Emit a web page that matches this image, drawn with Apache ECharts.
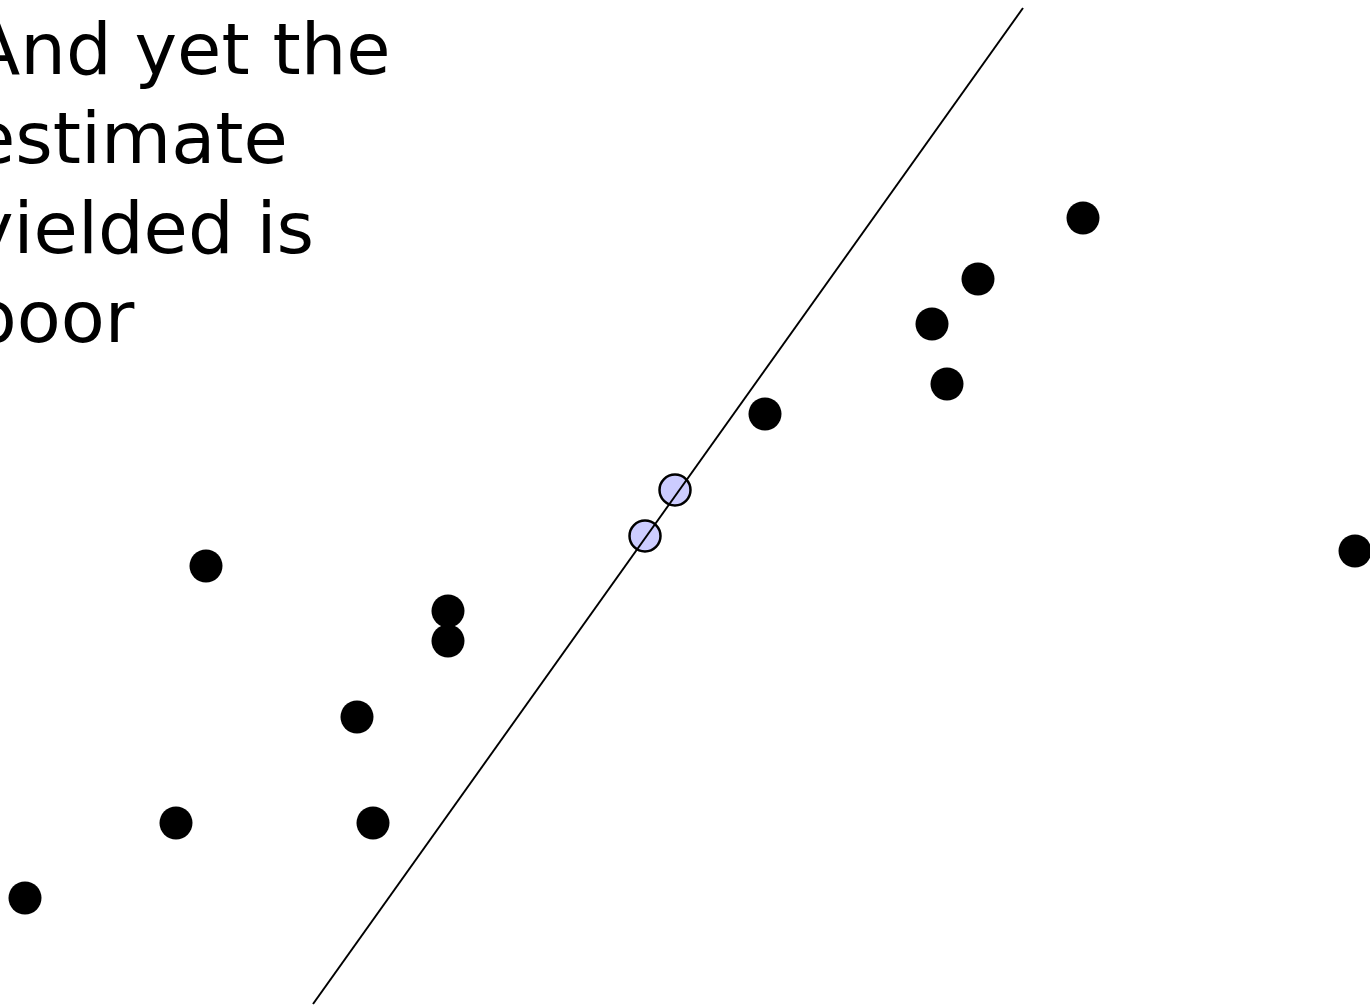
<!DOCTYPE html>
<html>
<head>
<meta charset="utf-8">
<script src="https://cdn.jsdelivr.net/npm/echarts@6/dist/echarts.min.js"></script>
<style>
  html, body { margin: 0; padding: 0; background: #fff; }
  #main { width: 1370px; height: 1006px; }
</style>
</head>
<body>
<div id="main"></div>
<script>
// data points (x right, y down)
var dataPoints = [
  [25, 898], [176, 823], [206, 566], [357, 717], [373, 823],
  [448, 611], [448, 641], [765, 414], [932, 324], [947, 384],
  [978, 279], [1083, 218], [1355, 551]
];
// the two points the estimate was fitted through
var fitPoints = [[675, 490], [645, 536]];
// estimated line, end points
var fitLine = [[313, 1004], [1023, 8]];
var textLines = ['And yet the', 'estimate', 'yielded is', 'poor'];

var myChart = echarts.init(document.getElementById('main'));

var option = {
    animation: false,
    grid: { left: 0, right: 0, top: 0, bottom: 0 },
    xAxis: { type: 'value', min: 0, max: 1370, show: false },
    yAxis: { type: 'value', min: 0, max: 1006, inverse: true, show: false },
    graphic: textLines.map(function (t, i) {
        return {
            type: 'text',
            left: -29,
            top: 19 + i * 89.5,
            style: { text: t, font: '72px "DejaVu Sans"', fill: '#000' }
        };
    }),
    series: [
        {
            type: 'scatter',
            data: dataPoints,
            symbolSize: 33,
            itemStyle: { color: '#000', opacity: 1 },
            z: 2
        },
        {
            type: 'scatter',
            data: fitPoints,
            symbolSize: 31,
            itemStyle: { color: '#ccccff', borderColor: '#000', borderWidth: 2.5, opacity: 1 },
            z: 2
        },
        {
            type: 'line',
            data: fitLine,
            symbol: 'none',
            lineStyle: { color: '#000', width: 2 },
            z: 3
        }
    ]
};
myChart.setOption(option);
</script>
</body>
</html>
